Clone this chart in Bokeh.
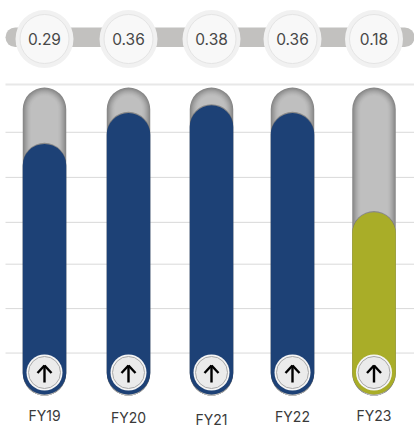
from bokeh.embed import file_html
from bokeh.resources import INLINE
from bokeh.plotting import figure
from bokeh.models import Range1d, LinearScale
from bokeh.core.properties import value

# Fiscal-year scores
years = ["FY19", "FY20", "FY21", "FY22", "FY23"]
scores = [0.29, 0.36, 0.38, 0.36, 0.18]
score_labels = ["0.29", "0.36", "0.38", "0.36", "0.18"]
highlight = [False, False, False, False, True]

# Horizontal guide levels on the score scale
guide_levels = [0.4395, 0.3146, 0.2295, 0.1676, 0.1251, 0.0917, 0.0672]
score_floor = 0.0503

# Layout, in page pixels
W, H = 414, 430
slot_x = [44, 128, 211, 292, 373.5]
label_y = [415, 417, 419, 416, 415]
BAR_W = 43.5
TRACK_TOP, TRACK_BOTTOM = 87, 395

BLUE = "#1d4176"
OLIVE = "#a9ad28"
FONT = value("Inter")

p = figure(width=W, height=H, output_backend="svg", toolbar_location=None,
           x_range=Range1d(0, W), y_range=Range1d(0.0391, 0.7906), y_axis_type="log",
           min_border=0, outline_line_color=None, background_fill_color="white",
           border_fill_color="white")
p.axis.visible = False
p.grid.visible = False

# Secondary pixel scale for the decorations around the bars
p.extra_y_ranges = {"px": Range1d(H, 0)}
p.extra_y_scales = {"px": LinearScale()}

# Guide lines
for i, level in enumerate(guide_levels):
    p.segment(x0=[5], x1=[W], y0=[level], y1=[level],
              line_color="#e8e8e8" if i == 0 else "#d9d9d9",
              line_width=2 if i == 0 else 1)

# Top band that carries the score badges
p.vbar(x=[W / 2 + 2.5], width=W - 5, bottom=[46.5], top=[27], y_range_name="px",
       fill_color="#c2c1bf", line_color=None, border_radius=10)

# Recessed tracks, shaded from dark rim to light centre
rim = ["#878787", "#909090", "#9a9a9a", "#a3a3a3", "#ababab", "#b2b2b2", "#b8b8b8", "#bcbcbc", "#bfbfbf"]
for i, shade in enumerate(rim):
    p.vbar(x=slot_x, width=BAR_W - 2 * i, bottom=TRACK_BOTTOM, top=TRACK_TOP + i,
           y_range_name="px", fill_color=shade, line_color=None,
           border_radius=22 - i)

# Score bars, with a thin soft shadow along the rounded top
p.vbar(x=slot_x, width=BAR_W, bottom=score_floor, top=[s * 1.008 for s in scores],
       fill_color="#3a3a3a", fill_alpha=0.4, line_color=None, border_radius=22)
colors = [OLIVE if h else BLUE for h in highlight]
p.vbar(x=slot_x, width=BAR_W, bottom=score_floor, top=scores, fill_color=colors,
       line_color=None, border_radius=22)

# Score badges
band_y = [38.5] * len(slot_x)
p.scatter(slot_x, band_y, size=58, y_range_name="px", fill_color="#f1f1f1", line_color=None)
p.scatter(slot_x, band_y, size=49, y_range_name="px", fill_color="#f8f8f8",
          line_color="#e4e4e4", line_width=1)
p.text(slot_x, band_y, text=score_labels, y_range_name="px", text_font=FONT,
       text_font_size="15.5px", text_align="center", text_baseline="middle",
       text_color="#484848")

# Arrow buttons at the foot of each bar
btn_y = [372] * len(slot_x)
p.scatter(slot_x, btn_y, size=36, y_range_name="px", fill_color="#f5f5f5", line_color=None)
p.scatter(slot_x, btn_y, size=32, y_range_name="px", fill_color="#ebebeb",
          line_color="#a8a8a8", line_width=1)
x = slot_x
p.segment(x, [365] * 5, x, [382] * 5, y_range_name="px", line_color="black", line_width=2.4)
p.segment([v - 7 for v in x], [372.5] * 5, x, [365] * 5, y_range_name="px",
          line_color="black", line_width=2.4)
p.segment([v + 7 for v in x], [372.5] * 5, x, [365] * 5, y_range_name="px",
          line_color="black", line_width=2.4)

# Year labels
p.text(slot_x, label_y, text=years, y_range_name="px", text_font=FONT,
       text_font_size="14px", text_align="center", text_baseline="middle",
       text_color="#3a3a3a")

open("out.html", "w").write(file_html(p, INLINE))
